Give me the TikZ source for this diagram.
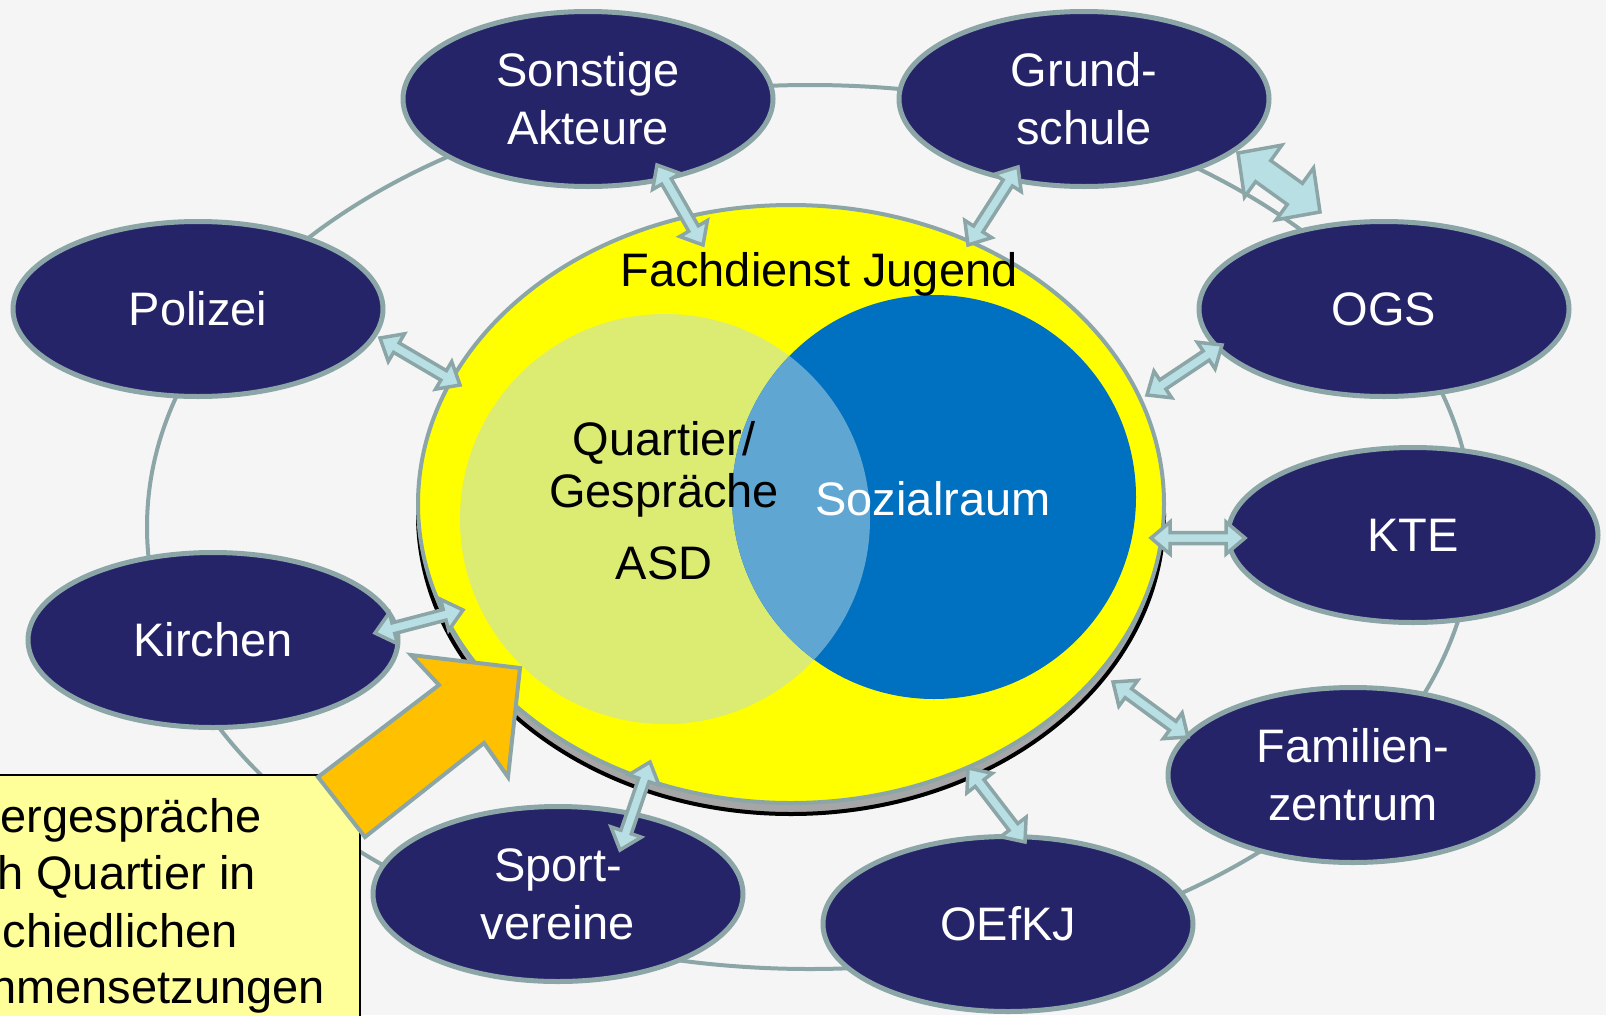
\documentclass[tikz,border=0pt]{standalone}
\usepackage{fontspec}
\setmainfont{Liberation Sans}
\usetikzlibrary{shapes.geometric,calc}
\definecolor{bg}{HTML}{F5F5F5}
\definecolor{edgec}{HTML}{8CA6A8}
\definecolor{navy}{HTML}{262469}
\definecolor{cyanfill}{HTML}{B8E0E4}
\definecolor{greenc}{HTML}{DCEB72}
\definecolor{bluec}{HTML}{0070C0}
\definecolor{overlapc}{HTML}{5FA7D2}
\definecolor{boxfill}{HTML}{FFFF99}
\definecolor{orangec}{HTML}{FFC000}
\definecolor{yellowc}{HTML}{FFFF00}
\definecolor{shadowgray}{HTML}{A6A6A6}
\newcommand\lblfont{\fontsize{47}{58}\selectfont}
\newcommand\boxfont{\fontsize{47}{57}\selectfont}
% double block arrow: [style]{from}{to}{head length}{shaft halfwidth}{head halfwidth}
\newcommand\dbarrow[6][dblarrow]{%
 \draw[#1] (#2) -- ($(#2)!#4!(#3)!#6!90:(#3)$) -- ($(#2)!#4!(#3)!#5!90:(#3)$)
  -- ($(#3)!#4!(#2)!#5!-90:(#2)$) -- ($(#3)!#4!(#2)!#6!-90:(#2)$) -- (#3)
  -- ($(#3)!#4!(#2)!#6!90:(#2)$) -- ($(#3)!#4!(#2)!#5!90:(#2)$)
  -- ($(#2)!#4!(#3)!#5!-90:(#3)$) -- ($(#2)!#4!(#3)!#6!-90:(#3)$) -- cycle;}
\tikzset{
 actor/.style={ellipse, draw=edgec, fill=navy, line width=5pt, minimum width=370pt,
   minimum height=175pt, text=white, font=\lblfont, align=center, inner sep=0pt},
 dblarrow/.style={draw=edgec, fill=cyanfill, line width=3.5pt, line join=miter},
 ctext/.style={font=\lblfont, inner sep=0pt},
 btext/.style={font=\boxfont, inner sep=0pt, anchor=base east},
}
\begin{document}
\begin{tikzpicture}[x=1pt,y=-1pt]
\useasboundingbox (0,0) rectangle (1606,1015);
\clip (0,0) rectangle (1606,1015);
\fill[bg] (0,0) rectangle (1606,1015);
% ring
\draw[edgec, line width=4pt] (810,527) ellipse [x radius=663, y radius=442];
% central ellipse with shadow
\draw[fill=shadowgray, draw=black, line width=4pt] (791,515) ellipse [x radius=373, y radius=299];
\node[ellipse, fill=yellowc, draw=edgec, line width=4pt, minimum width=746pt, minimum height=598pt, inner sep=0pt] (fj) at (791,504) {};
\node[circle, fill=greenc, minimum size=410pt, inner sep=0pt] (asd) at (665,519) {};
\node[circle, fill=bluec, minimum size=404pt, inner sep=0pt] (soz) at (934,497) {};
\begin{scope}
 \clip (934,497) circle [radius=202];
 \fill[overlapc] (665,519) circle [radius=205];
\end{scope}
\node[ctext] (fjt) at (819,274) {Fachdienst Jugend};
\node[ctext] (q1) at (664,443) {Quartier/};
\node[ctext] (q2) at (664,495) {Gespräche};
\node[ctext] (q3) at (664,563) {ASD};
\node[ctext, text=white] (sozt) at (933,499) {Sozialraum};
% actors
\node[actor] (son) at (588,99) {Sonstige\\Akteure};
\node[actor] (gru) at (1084,99) {Grund-\\schule};
\node[actor] (pol) at (198,309) {Polizei};
\node[actor] (ogs) at (1384,309) {OGS};
\node[actor] (kte) at (1413,535) {KTE};
\node[actor] (kir) at (213,640) {Kirchen};
\node[actor] (fam) at (1353,775) {Familien-\\zentrum};
\node[actor] (spo) at (558,894) {Sport-\\vereine};
\node[actor] (oef) at (1008,924) {OEfKJ};
% arrow end points
\coordinate (a1s) at (657,165); \coordinate (a1f) at (703,245);
\coordinate (a2s) at (1018,167); \coordinate (a2f) at (968,245);
\coordinate (a3s) at (1238,153); \coordinate (a3f) at (1320,212);
\coordinate (a4s) at (380,338); \coordinate (a4f) at (460,385);
\coordinate (a5s) at (1222,345); \coordinate (a5f) at (1147,395);
\coordinate (a6s) at (1245,538); \coordinate (a6f) at (1151,538);
\coordinate (a7s) at (375,633); \coordinate (a7f) at (463,610);
\coordinate (a8s) at (1188,737); \coordinate (a8f) at (1113,682);
\coordinate (a9s) at (620,850); \coordinate (a9f) at (650,762);
\coordinate (a10s) at (1025,842); \coordinate (a10f) at (968,768);
\dbarrow{a1s}{a1f}{19pt}{5.5pt}{16pt}
\dbarrow{a2s}{a2f}{19pt}{5.5pt}{16pt}
\dbarrow{a3s}{a3f}{31pt}{13pt}{32pt}
\dbarrow{a4s}{a4f}{19pt}{5.5pt}{16pt}
\dbarrow{a5s}{a5f}{19pt}{5.5pt}{16pt}
\dbarrow{a6s}{a6f}{19pt}{5.5pt}{16pt}
\dbarrow{a7s}{a7f}{19pt}{5.5pt}{16pt}
\dbarrow{a8s}{a8f}{19pt}{5.5pt}{16pt}
\dbarrow{a9s}{a9f}{19pt}{5.5pt}{16pt}
\dbarrow{a10s}{a10f}{19pt}{5.5pt}{16pt}
% text box
\draw[fill=boxfill, draw=black, line width=2pt] (-10,775) rectangle (360,1030);
\node[btext] (t1) at (262,832) {ergespräche};
\node[btext] (t2) at (256,889) {h Quartier in};
\node[btext] (t3) at (238,947) {chiedlichen};
\node[btext] (t4) at (325,1003) {nmensetzungen};
% orange arrow
\draw[fill=orangec, draw=edgec, line width=4pt, line join=miter]
 (318,777) -- (439,685) -- (411,655) -- (520,668) -- (508,777) -- (484,743) -- (365,837) -- cycle;
\end{tikzpicture}
\end{document}
